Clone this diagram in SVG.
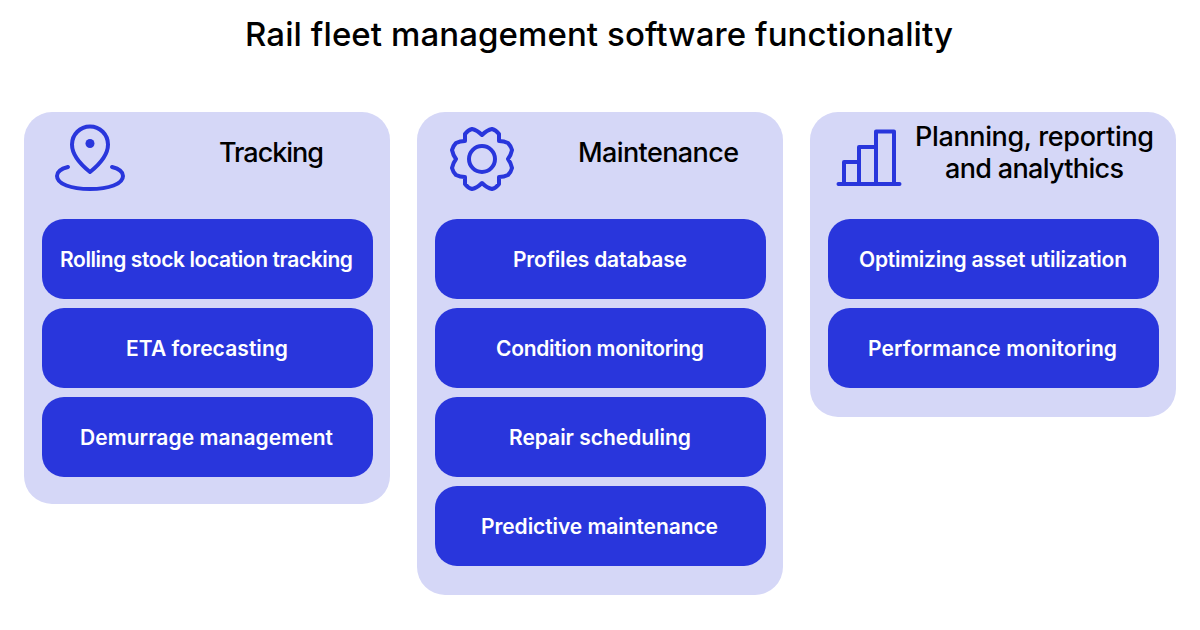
<svg xmlns="http://www.w3.org/2000/svg" width="1200" height="630" viewBox="0 0 1200 630">
<style>
text{font-family:Inter,"Noto Sans","Liberation Sans",sans-serif;font-weight:500;text-anchor:start}
.title{font-size:33px;fill:#000}
.head{font-size:27px;fill:#000}
.lab{font-size:21px;font-weight:600;fill:#fff}
.panel{fill:#D5D7F7}
.box{fill:#2936DC}
.ic{fill:none;stroke:#2936DC;stroke-width:4;stroke-linecap:round;stroke-linejoin:round}
</style>
<rect width="1200" height="630" fill="#fff"/>
<text id="title" class="title" x="245" y="46" textLength="708" lengthAdjust="spacing">Rail fleet management software functionality</text>
<g id="tracking">
<rect class="panel" x="24" y="112" width="366" height="392" rx="28"/>
<path class="ic" d="M90 172C80 164 72 155 72 144.500A18 18 0 0 1 108 144.500C108 155 100 164 90 172Z"/>
<circle cx="90" cy="143.500" r="4.500" fill="#2936DC"/>
<path class="ic" d="M68 167C60 169 57 172 57 176C57 184 71 189 90 189C109 189 123 184 123 176C123 172 120 169 112 167"/>
<text class="head" x="219" y="162" textLength="105" lengthAdjust="spacing">Tracking</text>
</g>
<g id="tracking-1"><rect class="box" x="42" y="219" width="331" height="80" rx="22"/><text class="lab" x="60" y="267" textLength="293" lengthAdjust="spacing">Rolling stock location tracking</text></g>
<g id="tracking-2"><rect class="box" x="42" y="308" width="331" height="80" rx="22"/><text class="lab" x="126" y="356" textLength="162" lengthAdjust="spacing">ETA forecasting</text></g>
<g id="tracking-3"><rect class="box" x="42" y="397" width="331" height="80" rx="22"/><text class="lab" x="80" y="445" textLength="253" lengthAdjust="spacing">Demurrage management</text></g>
<g id="maintenance">
<rect class="panel" x="417" y="112" width="366" height="483" rx="28"/>
<path class="ic" d="M482 135Q487 130 492 129Q496 130 499 134Q499 138 499 141Q504 141 508 143Q511 146 512 150Q511 155 508 159Q511 163 512 168Q511 172 508 175Q504 177 499 177Q499 181 499 184Q496 188 492 189Q487 188 482 183Q477 188 472 189Q468 188 465 184Q465 181 465 177Q460 177 456 175Q453 172 452 168Q453 163 456 159Q453 155 452 150Q453 146 456 143Q460 141 465 141Q465 138 465 134Q468 130 472 129Q477 130 482 135Z"/>
<circle class="ic" cx="482" cy="159" r="13"/>
<text class="head" x="578" y="162" textLength="161" lengthAdjust="spacing">Maintenance</text>
</g>
<g id="maintenance-1"><rect class="box" x="435" y="219" width="331" height="80" rx="22"/><text class="lab" x="513" y="267" textLength="174" lengthAdjust="spacing">Profiles database</text></g>
<g id="maintenance-2"><rect class="box" x="435" y="308" width="331" height="80" rx="22"/><text class="lab" x="496" y="356" textLength="208" lengthAdjust="spacing">Condition monitoring</text></g>
<g id="maintenance-3"><rect class="box" x="435" y="397" width="331" height="80" rx="22"/><text class="lab" x="509" y="445" textLength="182" lengthAdjust="spacing">Repair scheduling</text></g>
<g id="maintenance-4"><rect class="box" x="435" y="486" width="331" height="80" rx="22"/><text class="lab" x="481" y="534" textLength="237" lengthAdjust="spacing">Predictive maintenance</text></g>
<g id="planning">
<rect class="panel" x="810" y="112" width="366" height="305" rx="28"/>
<path class="ic" d="M838.500 184H899.500M844 184V162H859M859 184V147H876M876 184V131.500H894V184"/>
<text class="head" x="915" y="146" textLength="239" lengthAdjust="spacing">Planning, reporting</text>
<text class="head" x="945" y="178" textLength="179" lengthAdjust="spacing">and analythics</text>
</g>
<g id="planning-1"><rect class="box" x="828" y="219" width="331" height="80" rx="22"/><text class="lab" x="859" y="267" textLength="268" lengthAdjust="spacing">Optimizing asset utilization</text></g>
<g id="planning-2"><rect class="box" x="828" y="308" width="331" height="80" rx="22"/><text class="lab" x="868" y="356" textLength="249" lengthAdjust="spacing">Performance monitoring</text></g>
</svg>
